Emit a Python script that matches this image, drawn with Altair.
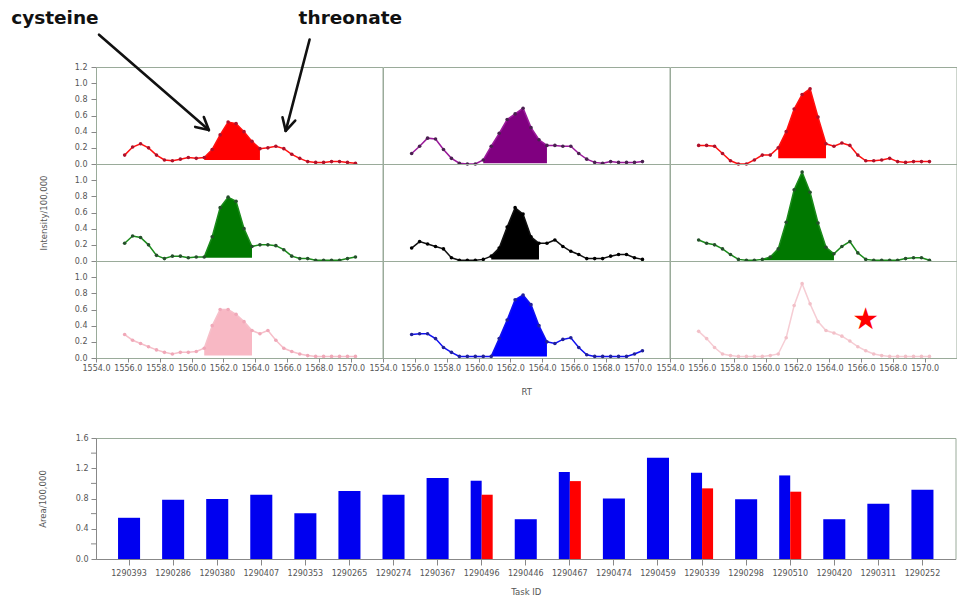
import math
import altair as alt
import pandas as pd

# ---------------- data ----------------
rt = [1555.8, 1556.3, 1556.8, 1557.3, 1557.8, 1558.3, 1558.8, 1559.3, 1559.8, 1560.3,
      1560.8, 1561.3, 1561.8, 1562.3, 1562.8, 1563.3, 1563.8, 1564.3, 1564.8, 1565.3,
      1565.8, 1566.3, 1566.8, 1567.3, 1567.8, 1568.3, 1568.8, 1569.3, 1569.8, 1570.3]

trace_1 = [0.11, 0.21, 0.25, 0.20, 0.11, 0.05, 0.04, 0.06, 0.08, 0.07,
           0.08, 0.18, 0.36, 0.52, 0.50, 0.40, 0.28, 0.19, 0.20, 0.22,
           0.19, 0.12, 0.07, 0.03, 0.02, 0.02, 0.03, 0.03, 0.02, 0.01]
trace_2 = [0.13, 0.22, 0.32, 0.31, 0.18, 0.07, 0.01, 0.00, 0.00, 0.05,
           0.22, 0.38, 0.55, 0.62, 0.69, 0.45, 0.30, 0.23, 0.23, 0.22,
           0.22, 0.13, 0.06, 0.02, 0.01, 0.03, 0.02, 0.02, 0.02, 0.03]
trace_3 = [0.23, 0.23, 0.22, 0.13, 0.04, 0.00, 0.00, 0.05, 0.11, 0.11,
           0.20, 0.40, 0.68, 0.86, 0.93, 0.58, 0.25, 0.22, 0.26, 0.23,
           0.11, 0.04, 0.04, 0.05, 0.07, 0.03, 0.02, 0.03, 0.03, 0.03]
trace_4 = [0.22, 0.31, 0.29, 0.20, 0.07, 0.03, 0.06, 0.06, 0.04, 0.05,
           0.05, 0.30, 0.66, 0.79, 0.74, 0.40, 0.18, 0.20, 0.20, 0.19,
           0.14, 0.06, 0.03, 0.03, 0.01, 0.01, 0.01, 0.01, 0.03, 0.05]
trace_5 = [0.16, 0.24, 0.21, 0.18, 0.15, 0.04, 0.01, 0.01, 0.01, 0.02,
           0.06, 0.16, 0.42, 0.66, 0.58, 0.30, 0.22, 0.22, 0.26, 0.18,
           0.12, 0.08, 0.03, 0.03, 0.03, 0.06, 0.08, 0.08, 0.04, 0.02]
trace_6 = [0.26, 0.22, 0.20, 0.15, 0.08, 0.02, 0.01, 0.01, 0.02, 0.05,
           0.15, 0.48, 0.88, 1.10, 0.85, 0.47, 0.17, 0.09, 0.18, 0.24,
           0.10, 0.02, 0.01, 0.01, 0.01, 0.01, 0.03, 0.04, 0.04, 0.01]
trace_7 = [0.29, 0.22, 0.18, 0.14, 0.10, 0.07, 0.05, 0.07, 0.07, 0.08,
           0.12, 0.40, 0.60, 0.60, 0.54, 0.45, 0.34, 0.30, 0.34, 0.22,
           0.12, 0.08, 0.05, 0.03, 0.02, 0.02, 0.02, 0.02, 0.02, 0.02]
trace_8 = [0.29, 0.30, 0.30, 0.24, 0.13, 0.07, 0.02, 0.02, 0.02, 0.02,
           0.02, 0.24, 0.47, 0.72, 0.78, 0.66, 0.40, 0.20, 0.18, 0.23,
           0.25, 0.13, 0.04, 0.02, 0.02, 0.02, 0.02, 0.02, 0.05, 0.09]
trace_9 = [0.33, 0.24, 0.13, 0.05, 0.03, 0.02, 0.02, 0.02, 0.02, 0.03,
           0.05, 0.25, 0.65, 0.92, 0.67, 0.45, 0.34, 0.31, 0.27, 0.21,
           0.14, 0.09, 0.05, 0.03, 0.02, 0.02, 0.02, 0.02, 0.02, 0.02]
traces = [trace_1, trace_2, trace_3, trace_4, trace_5, trace_6, trace_7, trace_8, trace_9]

peak_start = [1560.8, 1560.3, 1560.8, 1560.8, 1560.8, 1559.8, 1560.8, 1560.8, None]
peak_end = [1564.3, 1564.3, 1563.8, 1563.8, 1563.8, 1564.3, 1563.8, 1564.3, None]
peak_base = [0.05, 0.01, 0.07, 0.04, 0.02, 0.01, 0.03, 0.02, None]

star_rt = [1566.3]
star_val = [0.47]

annot_labels = ["cysteine", "threonate"]
annot_rt = [1548.67, 1566.73]
annot_val = [1.92, 1.92]
arrow_tail_rt = [1554.19, 1567.42]
arrow_tail_val = [1.60, 1.54]
arrow_tip_rt = [1561.09, 1565.92]
arrow_tip_val = [0.42, 0.41]

x_ticks = [1554, 1556, 1558, 1560, 1562, 1564, 1566, 1568, 1570]

task_ids = ["1290393", "1290286", "1290380", "1290407", "1290353", "1290265", "1290274",
            "1290367", "1290496", "1290446", "1290467", "1290474", "1290459", "1290339",
            "1290298", "1290510", "1290420", "1290311", "1290252"]
area_blue = [0.545, 0.785, 0.795, 0.85, 0.605, 0.90, 0.85, 1.07, 1.035, 0.526,
             1.15, 0.80, 1.34, 1.14, 0.79, 1.105, 0.526, 0.73, 0.917]
paired_ids = ["1290496", "1290467", "1290339", "1290510"]
paired_red = [0.85, 1.03, 0.934, 0.89]
area_minor_ticks = [0.2, 0.6, 1.0, 1.4]

# ---------------- styles ----------------
line_colors = ["#ff1010", "#9a1a9a", "#ff1010", "#1a8a1a", "#111111", "#1a8a1a",
               "#f6c0ca", "#1010f0", "#f6cdd4"]
fill_colors = ["#ff0000", "#800080", "#ff0000", "#007800", "#000000", "#007800",
               "#f8b8c4", "#0000ff", None]
point_colors = ["#b0102a", "#4a2050", "#b0102a", "#24502a", "#000000", "#24502a",
                "#f0a8b8", "#20209a", "#f2c0c8"]

PW, PH = 286.5, 97
XDOM = [1554, 1572]
YDOM = [0, 1.2]
FONT = "DejaVu Sans"
LABEL_COLOR = "#555555"
xpx = PW / (XDOM[1] - XDOM[0])
ypx = PH / (YDOM[1] - YDOM[0])


def xenc(field, r, c):
    if r == 2:
        axis = alt.Axis(values=x_ticks, format=".1f", title="RT" if c == 1 else None,
                        labelOverlap=False, labelFlush=False, tickSize=4, labelPadding=2,
                        titlePadding=15, grid=False, domain=False)
    else:
        axis = None
    return alt.X(field, type="quantitative", scale=alt.Scale(domain=XDOM, nice=False, zero=False), axis=axis)


def yenc(field, r, c):
    if c == 0:
        vals = [0, 0.2, 0.4, 0.6, 0.8, 1.0, 1.2] if r == 0 else [0, 0.2, 0.4, 0.6, 0.8, 1.0]
        axis = alt.Axis(values=vals, format=".1f", title="Intensity/100,000" if r == 1 else None,
                        tickSize=5, labelPadding=4, titlePadding=26, grid=False, domain=False)
    else:
        axis = None
    return alt.Y(field, type="quantitative", scale=alt.Scale(domain=YDOM, nice=False, zero=False), axis=axis)


# arrow shafts + arrow-head arms (derived from the tail/tip points)
seg_x, seg_y, seg_x2, seg_y2 = [], [], [], []
for k in range(2):
    seg_x.append(arrow_tail_rt[k]); seg_y.append(arrow_tail_val[k])
    seg_x2.append(arrow_tip_rt[k]); seg_y2.append(arrow_tip_val[k])
    dxp = (arrow_tip_rt[k] - arrow_tail_rt[k]) * xpx
    dyp = -(arrow_tip_val[k] - arrow_tail_val[k]) * ypx
    n = math.hypot(dxp, dyp)
    ux, uy = dxp / n, dyp / n
    for s in (1, -1):
        a = math.radians(28) * s
        bx = -(ux * math.cos(a) - uy * math.sin(a)) * 14
        by = -(ux * math.sin(a) + uy * math.cos(a)) * 14
        seg_x.append(arrow_tip_rt[k] + bx / xpx); seg_y.append(arrow_tip_val[k] - by / ypx)
        seg_x2.append(arrow_tip_rt[k]); seg_y2.append(arrow_tip_val[k])

panels = []
for i in range(9):
    r, c = divmod(i, 3)
    df = pd.DataFrame({"rt": rt, "val": traces[i]})
    layers = []
    if peak_start[i] is not None:
        pk = df[(df["rt"] >= peak_start[i] - 1e-6) & (df["rt"] <= peak_end[i] + 1e-6)].copy()
        pk["base"] = peak_base[i]
        layers.append(
            alt.Chart(pk).mark_area(color=fill_colors[i], opacity=1)
            .encode(x=xenc("rt", r, c), y=yenc("val", r, c), y2="base:Q")
        )
    layers.append(
        alt.Chart(df).mark_line(color=line_colors[i], strokeWidth=1.5)
        .encode(x=xenc("rt", r, c), y=yenc("val", r, c))
    )
    layers.append(
        alt.Chart(df).mark_point(filled=True, size=13, color=point_colors[i], opacity=1)
        .encode(x=xenc("rt", r, c), y=yenc("val", r, c))
    )
    if i == 8:
        sdf = pd.DataFrame({"rt": star_rt, "val": star_val, "s": ["\u2605"]})
        layers.append(
            alt.Chart(sdf).mark_text(color="#ff0000", fontSize=30, font=FONT, baseline="middle", align="center")
            .encode(x=xenc("rt", r, c), y=yenc("val", r, c), text="s:N")
        )
    if i == 0:
        adf = pd.DataFrame({"rt": annot_rt, "val": annot_val, "label": annot_labels})
        layers.append(
            alt.Chart(adf).mark_text(align="left", baseline="top", font=FONT, fontSize=18.5,
                                     fontWeight="bold", color="#111111")
            .encode(x=xenc("rt", r, c), y=yenc("val", r, c), text="label:N")
        )
        rdf = pd.DataFrame({"rt": seg_x, "val": seg_y, "rt2": seg_x2, "val2": seg_y2})
        layers.append(
            alt.Chart(rdf).mark_rule(color="#111111", strokeWidth=2.6, strokeCap="round")
            .encode(x=xenc("rt", r, c), y=yenc("val", r, c), x2="rt2:Q", y2="val2:Q")
        )
    panels.append(alt.layer(*layers).properties(width=PW, height=PH))

grid = alt.concat(*panels, columns=3, spacing=0, bounds="flush")

# ---------------- bar chart ----------------
single = pd.DataFrame({"task": [t for t in task_ids if t not in paired_ids],
                       "area": [v for t, v in zip(task_ids, area_blue) if t not in paired_ids]})
pair_blue = [area_blue[task_ids.index(t)] for t in paired_ids]
pdf = pd.DataFrame({"task": paired_ids * 2,
                    "series": ["blue"] * len(paired_ids) + ["red"] * len(paired_ids),
                    "area": pair_blue + paired_red})
mdf = pd.DataFrame({"area": area_minor_ticks})

xb = alt.X("task:N", sort=task_ids, scale=alt.Scale(paddingInner=0.5, paddingOuter=0.5),
           axis=alt.Axis(title="Task ID", labelAngle=0, tickSize=6, labelPadding=4, titlePadding=10))
yb = alt.Y("area:Q", scale=alt.Scale(domain=[0, 1.6], nice=False),
           axis=alt.Axis(title="Area/100,000", values=[0, 0.4, 0.8, 1.2, 1.6], format=".1f",
                         tickSize=5, labelPadding=3, titlePadding=28, grid=False))

bars = alt.layer(
    alt.Chart(single).mark_bar(color="#0000f0").encode(x=xb, y=yb),
    alt.Chart(pdf).mark_bar().encode(
        x=xb, y=yb,
        xOffset=alt.XOffset("series:N", scale=alt.Scale(domain=["blue", "red"], paddingInner=0)),
        color=alt.Color("series:N", scale=alt.Scale(domain=["blue", "red"], range=["#0000f0", "#ff0000"]),
                        legend=None),
    ),
    alt.Chart(mdf).mark_rule(color="#888888", strokeWidth=1).encode(
        y=yb, x=alt.value(-5), x2=alt.value(0)
    ),
).properties(width=3 * PW, height=121)

chart = alt.vconcat(grid, bars, spacing=37).properties(
    padding={"left": 2, "top": 0, "right": 0, "bottom": 0}
).configure_view(
    stroke="#9aab9a", strokeWidth=1
).configure_axis(
    labelFont=FONT, labelFontSize=8, labelColor=LABEL_COLOR,
    titleFont=FONT, titleFontSize=8.5, titleColor=LABEL_COLOR, titleFontWeight="normal",
    tickColor="#888888"
)

chart.save("out.html", embed_options={"renderer": "svg", "actions": False})
